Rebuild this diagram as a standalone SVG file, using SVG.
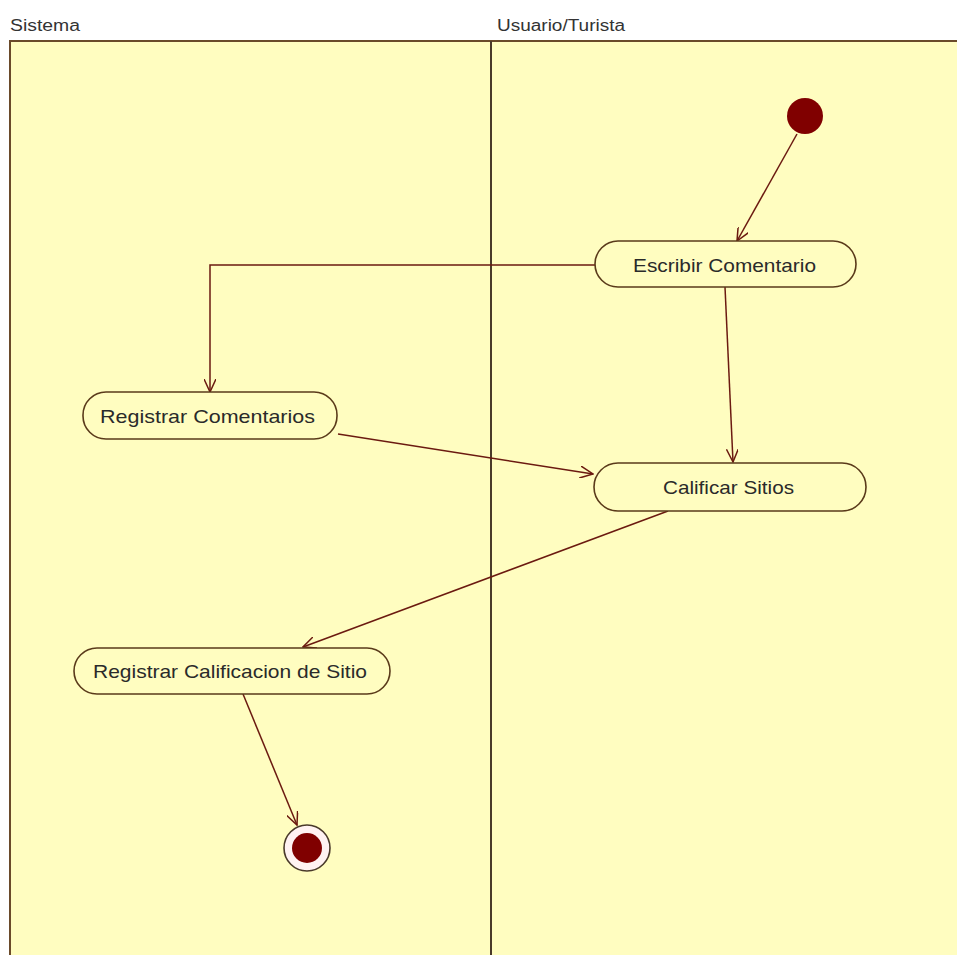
<svg xmlns="http://www.w3.org/2000/svg" width="957" height="955" viewBox="0 0 957 955">
<style>
.lane{fill:#FFFDC0;stroke:#6a4a2a;stroke-width:2}
.hdr{font-family:"Liberation Sans",Arial,sans-serif;font-size:16px;fill:#333}
.node rect{fill:#FFFDC0;stroke:#5a3a1a;stroke-width:1.6}
.lbl{font-family:"Liberation Sans",Arial,sans-serif;font-size:19px;fill:#2a2a2a}
.edge{fill:none;stroke:#6b1a10;stroke-width:1.5;marker-end:url(#arr)}
</style>
<defs>
<marker id="arr" viewBox="0 0 14 12" refX="13" refY="6" markerWidth="14" markerHeight="12" markerUnits="userSpaceOnUse" orient="auto">
<path d="M0,0 L13,6 L0,12" fill="none" stroke="#6b1a10" stroke-width="1.5"/>
</marker>
</defs>
<rect x="0" y="0" width="957" height="955" fill="#ffffff"/>
<g id="lanes">
<rect class="lane" x="10" y="41" width="960" height="930"/>
<line x1="491" y1="41" x2="491" y2="955" stroke="#4a3a2a" stroke-width="2"/>
<text class="hdr" x="10" y="31" textLength="70" lengthAdjust="spacingAndGlyphs">Sistema</text>
<text class="hdr" x="497" y="31" textLength="128" lengthAdjust="spacingAndGlyphs">Usuario/Turista</text>
</g>
<g id="connectors">
<path class="edge" d="M797,134 L737,241"/>
<path class="edge" d="M595,265 L210,265 L210,392"/>
<path class="edge" d="M725,287 L733,462"/>
<path class="edge" d="M338,434 L593,474"/>
<path class="edge" d="M668,511 L303,647"/>
<path class="edge" d="M243,694 L297,825"/>
</g>
<g id="start">
<circle cx="805" cy="116" r="18" fill="#800000"/>
</g>
<g id="escribir" class="node">
<rect x="595" y="241" width="261" height="46" rx="23"/>
<text class="lbl" x="633" y="272" textLength="183" lengthAdjust="spacingAndGlyphs">Escribir Comentario</text>
</g>
<g id="registrarComentarios" class="node">
<rect x="83" y="392" width="254" height="47" rx="23"/>
<text class="lbl" x="100" y="423" textLength="215" lengthAdjust="spacingAndGlyphs">Registrar Comentarios</text>
</g>
<g id="calificar" class="node">
<rect x="594" y="463" width="272" height="48" rx="24"/>
<text class="lbl" x="663" y="494" textLength="131" lengthAdjust="spacingAndGlyphs">Calificar Sitios</text>
</g>
<g id="registrarCalificacion" class="node">
<rect x="74" y="648" width="316" height="46" rx="23"/>
<text class="lbl" x="93" y="678" textLength="274" lengthAdjust="spacingAndGlyphs">Registrar Calificacion de Sitio</text>
</g>
<g id="end">
<circle cx="307" cy="848" r="23" fill="#FFF2F2" stroke="#4a3a2a" stroke-width="1.6"/>
<circle cx="307" cy="848" r="15" fill="#800000"/>
</g>
</svg>
